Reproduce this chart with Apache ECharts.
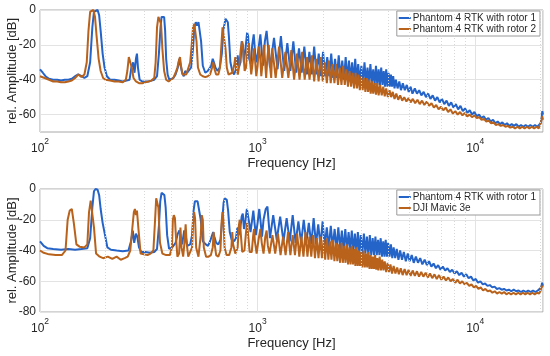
<!DOCTYPE html>
<html><head><meta charset="utf-8">
<script src="https://cdn.jsdelivr.net/npm/echarts@6/dist/echarts.min.js"></script>
<style>html,body{margin:0;padding:0;background:#fff}#c{width:550px;height:356px}</style>
</head><body><div id="c"></div>
<script>
const seriesNames = ['Phantom 4 RTK with rotor 1', 'Phantom 4 RTK with rotor 2', 'DJI Mavic 3e'];
const xTitle = 'Frequency [Hz]';
const yTitle = 'rel. Amplitude [dB]';
const yTicksTop = [0, -20, -40, -60];
const yTicksBottom = [0, -20, -40, -60, -80];
const minorGrid = [200,300,400,500,600,700,800,900,2000,3000,4000,5000,6000,7000,8000,9000,20000];

const topRotor1 = [[100,-34],[103,-36],[106,-38],[110,-39.5],[115,-40],[120,-40],[125,-40.5],[130,-40],[135,-40],[140,-39.5],[145,-38],[150,-37],[155,-38],[160,-39],[165,-38],[170,-30],[174,-10],[177,-1],[180,0],[184,0],[187,-3],[190,-12],[194,-25],[198,-33],[203,-38],[210,-40],[220,-40],[230,-40.5],[240,-41],[250,-40.5],[258,-40],[263,-33],[268,-30],[272,-36],[276,-28],[279,-25],[282,-33],[287,-40],[295,-41],[305,-41],[315,-41],[325,-40.5],[335,-40],[345,-38],[352,-25],[358,-10],[362,-4],[367,-3],[372,-4],[376,-12],[380,-28],[386,-37],[393,-40],[400,-40],[410,-39],[420,-37],[430,-33],[437,-28],[443,-32],[450,-36],[458,-38],[465,-35],[475,-36],[485,-36],[495,-33],[505,-22],[512,-10],[520,-7],[527,-9],[535,-7],[542,-8],[550,-18],[560,-32],[575,-36],[590,-35],[600,-34],[612,-32],[622,-28],[630,-30],[640,-33],[655,-35],[670,-33],[685,-25],[695,-12],[705,-8],[712,-5],[720,-6],[730,-7],[738,-15],[750,-30],[765,-35],[780,-37],[795,-34],[810,-26],[820,-33],[835,-30],[845,-18],[855,-20],[865,-30],[880,-22],[895,-13],[905,-15],[915,-28],[930,-31],[945,-20],[960,-14],[975,-25],[990,-30],[1010,-22],[1030,-14],[1045,-24],[1060,-32],[1080,-18],[1100,-12],[1115,-20],[1140,-33],
[1190,-16],[1235,-34],[1280,-15],[1325,-35],[1370,-19],[1415,-35],[1460,-18],[1505,-36],[1550,-22],[1595,-36],[1640,-21],[1685,-37],[1730,-24],[1775,-37],[1820,-21],[1865,-37],[1910,-25],[1955,-38],[2000,-24],[2045,-38],[2090,-27],[2135,-38],[2180,-25],[2225,-39],[2270,-28],[2315,-39],[2360,-26],[2405,-39],[2450,-29],[2495,-40],[2540,-27],[2585,-40],[2630,-29],[2675,-40],[2720,-30],[2765,-41],[2810,-28],[2855,-41],[2900,-31],[2945,-41],[3000,-32],[3050,-42],[3100,-30],[3150,-42],[3200,-33],[3250,-42],[3300,-31],[3350,-42],[3400,-34],[3450,-43],[3500,-32],[3550,-43],[3600,-34],[3650,-43],[3700,-33],[3750,-43],[3800,-35],[3850,-44],[3900,-34],[3950,-44],[4000,-36],[4050,-44],[4100,-37],[4150,-44],[4200,-38],[4260,-45],[4320,-40],[4400,-45],[4480,-41],[4560,-46],[4650,-42],[4750,-46],[4850,-43],[4950,-47],[5050,-44],[5150,-48],[5280,-45],[5400,-48],[5530,-46],[5660,-49],[5800,-47],[5940,-50],[6080,-48],[6230,-51],[6380,-49],[6540,-52],[6700,-50],[6870,-53],[7040,-51],[7210,-54],[7390,-52],[7570,-55],[7760,-53],[7950,-56],[8150,-54],[8350,-57],[8560,-55],[8770,-58],[8990,-56.5],[9210,-59],[9440,-57.5],[9680,-60],[9920,-58.5],[10170,-61],[10420,-60],[10680,-62],[10950,-61],[11220,-63],[11500,-62],[11790,-64],[12080,-63],[12380,-65],[12690,-64],[13010,-65.5],[13330,-64.5],[13670,-66],[14010,-65],[14360,-66.5],[14720,-65.5],[15080,-66.5],[15460,-65.5],[15850,-67],[16240,-66],[16650,-67],[17060,-66],[17490,-67],[17930,-66],[18380,-67],[18830,-66],[19300,-67],[19700,-66],[20000,-65],[20200,-62],[20350,-58],[20500,-60]];

const topRotor2 = [[100,-38],[105,-39],[110,-40],[115,-41],[120,-41],[125,-41.5],[130,-41.5],[135,-41],[140,-40.5],[145,-39],[150,-37],[155,-38.5],[160,-37],[164,-30],[167,-12],[170,-1],[173,0],[176,0],[179,-4],[182,-15],[186,-28],[190,-35],[195,-39],[200,-40],[210,-40.5],[220,-41],[230,-41],[240,-41.5],[248,-40],[252,-35],[256,-27],[260,-26],[264,-33],[269,-39],[276,-41],[285,-42],[295,-42],[305,-41.5],[315,-41],[325,-40.5],[335,-39],[340,-30],[345,-10],[350,-4],[355,-4],[360,-8],[365,-22],[372,-35],[380,-40],[390,-41],[400,-40],[410,-39],[420,-36],[428,-33],[435,-29],[440,-27],[446,-33],[452,-37],[460,-38],[470,-37],[480,-36],[490,-30],[498,-20],[505,-10],[512,-8],[518,-9],[524,-18],[532,-33],[545,-37],[560,-38],[575,-38.5],[590,-38],[605,-37],[618,-33],[626,-30],[634,-34],[645,-37],[660,-37],[672,-33],[682,-20],[690,-10],[697,-9],[704,-11],[712,-22],[722,-33],[735,-37],[750,-38],[765,-36],[780,-32],[790,-27],[798,-33],[812,-37],[825,-31],[838,-22],[850,-18],[860,-24],[872,-35],[885,-33],[900,-22],[912,-19],[922,-28],[935,-37],[950,-30],[962,-22],[974,-29],[986,-38],[1000,-32],[1015,-21],[1028,-27],[1040,-38],[1055,-30],[1070,-20],[1083,-30],[1095,-39],[1110,-27],[1125,-20],[1140,-32],[1155,-39],
[1168,-22],[1211,-39],[1255,-21],[1298,-39],[1342,-24],[1385,-39],[1429,-23],[1472,-40],[1516,-25],[1559,-40],[1603,-24],[1646,-40],[1690,-27],[1733,-40],[1777,-26],[1820,-41],[1864,-28],[1907,-41],[1951,-27],[1994,-41],[2038,-30],[2081,-42],[2125,-29],[2168,-42],[2212,-31],[2255,-42],[2299,-31],[2342,-43],[2386,-33],[2429,-43],[2473,-32],[2516,-43],[2560,-34],[2603,-44],[2647,-35],[2690,-44],[2734,-36],[2777,-45],[2821,-36],[2864,-45],[2908,-37],[2951,-46],[2995,-38],[3040,-46],[3085,-39],[3130,-47],[3175,-39],[3220,-47],[3265,-40],[3310,-48],[3355,-41],[3400,-48],[3450,-42],[3500,-48.5],[3550,-42],[3600,-49],[3660,-43],[3720,-49],[3780,-44],[3840,-49.5],[3900,-45],[3970,-50],[4040,-46],[4110,-50],[4180,-47],[4260,-51],[4340,-48],[4430,-51.5],[4520,-49],[4620,-52],[4720,-50],[4830,-52.5],[4940,-50.5],[5050,-53],[5170,-51],[5300,-53.5],[5430,-51.5],[5560,-54],[5700,-52],[5840,-54.5],[5990,-52.5],[6140,-55],[6300,-53.5],[6460,-56],[6620,-54.5],[6790,-57],[6960,-55.5],[7140,-57.5],[7320,-56],[7510,-58.5],[7700,-57],[7900,-59.5],[8100,-58],[8310,-60],[8520,-58.5],[8740,-60.5],[8960,-59],[9190,-61],[9430,-60],[9670,-61.5],[9920,-60.5],[10170,-62],[10430,-61.5],[10700,-63],[10970,-62.5],[11250,-64],[11540,-63.5],[11840,-65],[12140,-64.5],[12450,-66],[12770,-65.5],[13100,-66.5],[13440,-66],[13780,-67],[14130,-66.5],[14500,-67.5],[14870,-67],[15250,-68],[15640,-67],[16040,-68],[16450,-67],[16870,-68],[17300,-67],[17750,-68],[18200,-67],[18670,-68],[19150,-67],[19600,-68],[19900,-67],[20100,-64],[20300,-61],[20500,-63]];

const bottomRotor1 = [[100,-34],[104,-37],[108,-38.5],[115,-39],[125,-39.5],[135,-39],[145,-39.5],[155,-39],[165,-38.5],[170,-32],[174,-12],[177,-1.5],[180,0],[184,-0.5],[187,-4],[190,-13],[194,-22],[199,-30],[204,-38],[212,-39.5],[225,-40],[240,-40.5],[255,-40],[262,-34],[267,-27],[271,-35],[276,-29],[280,-31],[285,-38],[292,-41],[305,-41],[320,-41.5],[335,-41],[345,-39],[352,-24],[357,-8],[362,-2.5],[368,-3],[373,-4],[378,-12],[384,-30],[392,-39],[405,-38],[420,-35],[430,-29],[437,-27],[443,-31],[450,-36],[460,-27],[467,-30],[475,-37],[490,-36],[500,-30],[508,-14],[515,-8],[522,-9],[530,-8],[540,-9],[548,-20],[560,-34],[578,-36],[592,-37],[605,-34],[615,-33],[625,-28],[633,-31],[645,-35],[660,-36],[675,-33],[688,-20],[698,-9],[706,-6],[714,-6],[722,-7],[732,-14],[745,-28],[760,-33],[780,-34],[795,-32],[808,-25],[818,-30],[832,-26],[845,-18],[855,-16],[866,-26],[880,-20],[893,-13],[903,-12],[915,-22],[928,-28],[942,-21],[956,-14],[968,-22],[982,-30],[1000,-22],[1018,-13],[1032,-21],[1048,-31],[1065,-20],[1090,-13],[1110,-11.5],[1125,-22],[1140,-32],
[1180,-17],[1225,-33],[1270,-18],[1315,-34],[1360,-19],[1405,-34],[1450,-17],[1495,-35],[1540,-21],[1585,-35],[1630,-20],[1675,-35],[1720,-22],[1765,-36],[1810,-19],[1855,-36],[1900,-23],[1945,-37],[1990,-21],[2035,-37],[2080,-25],[2125,-38],[2170,-24],[2215,-38],[2260,-26],[2305,-39],[2350,-25],[2395,-39],[2440,-27],[2485,-40],[2530,-26],[2575,-40],[2620,-28],[2665,-40],[2710,-27],[2755,-41],[2800,-29],[2845,-41],[2890,-28],[2935,-42],[2980,-30],[3030,-42],[3080,-29],[3130,-42],[3180,-31],[3230,-43],[3280,-30],[3330,-43],[3380,-32],[3430,-43],[3480,-31],[3530,-43],[3580,-33],[3630,-43],[3680,-32],[3730,-44],[3780,-34],[3830,-44],[3880,-33],[3930,-44],[3980,-35],[4040,-44],[4100,-36],[4160,-45],[4220,-38],[4290,-45],[4360,-39],[4440,-46],[4520,-40],[4610,-46],[4700,-41],[4800,-47],[4900,-42],[5000,-47],[5110,-43],[5220,-48],[5340,-44],[5460,-48],[5590,-45],[5720,-49],[5860,-46],[6000,-49.5],[6140,-47],[6290,-50.5],[6440,-48.5],[6600,-51.5],[6760,-49.5],[6930,-52.5],[7100,-50.5],[7280,-53],[7460,-51.5],[7650,-54],[7840,-52.5],[8040,-55],[8240,-53.5],[8450,-56],[8660,-54.5],[8880,-57],[9100,-55.5],[9330,-58],[9570,-57],[9810,-59.5],[10060,-58.5],[10310,-61],[10570,-60],[10840,-62],[11110,-61.5],[11390,-63],[11680,-62.5],[11980,-64],[12280,-63.5],[12590,-65],[12910,-64.5],[13240,-65.5],[13580,-65],[13930,-66],[14290,-65.5],[14660,-66.5],[15040,-65.5],[15430,-66.5],[15830,-66],[16240,-67],[16660,-66],[17090,-67],[17530,-66],[17980,-67],[18440,-66],[18910,-67],[19400,-66],[19800,-66.5],[20100,-64],[20300,-61],[20500,-63]];

const bottomMavic = [[100,-40],[104,-41.5],[110,-42.5],[118,-43],[126,-43],[131,-40],[134,-20],[137,-14],[140,-13],[143,-22],[147,-36],[152,-37.5],[160,-38],[165,-36],[168,-15],[171,-7.5],[174,-8],[177,-25],[181,-42],[188,-44],[195,-45],[205,-44],[215,-45.5],[225,-44],[235,-46],[245,-45],[253,-44],[260,-40],[265,-27],[270,-15],[273,-13],[276,-17],[279,-14],[283,-25],[290,-42],[300,-42.5],[312,-43],[322,-42],[332,-40],[338,-20],[342,-6],[346,-6],[350,-12],[356,-35],[365,-42],[380,-43],[395,-43],[404,-38],[408,-20],[412,-17],[417,-19],[421,-30],[428,-44],[436,-42],[442,-25],[447,-38],[455,-44],[462,-34],[467,-23],[472,-35],[480,-44],[490,-45],[500,-38],[506,-20],[511,-15],[516,-19],[522,-38],[535,-44],[548,-30],[554,-17],[560,-20],[566,-38],[580,-44],[595,-44],[610,-43],[622,-38],[628,-28],[634,-35],[645,-43],[660,-44],[675,-40],[683,-22],[690,-15],[697,-20],[705,-38],[720,-43],[740,-43],[758,-38],[765,-28],[772,-36],[790,-42],[810,-38],[820,-24],[828,-20],[836,-28],[850,-41],[870,-40],[885,-28],[895,-22],[905,-30],[920,-41],[940,-41],[955,-30],[963,-26],[972,-34],[990,-42],[1010,-33],[1030,-26],[1045,-35],[1065,-42],[1085,-31],[1100,-27],[1115,-37],[1135,-42],
[1170,-30],[1205,-42],[1240,-29],[1275,-43],[1310,-31],[1345,-43],[1380,-28],[1415,-43],[1450,-30],[1485,-43],[1520,-29],[1555,-44],[1590,-31],[1625,-44],[1660,-28],[1695,-44],[1730,-31],[1765,-44],[1800,-30],[1835,-45],[1870,-32],[1905,-45],[1940,-31],[1975,-45],[2010,-33],[2045,-46],[2080,-32],[2115,-46],[2150,-34],[2185,-46],[2220,-33],[2255,-47],[2290,-35],[2325,-47],[2360,-36],[2395,-48],[2430,-35],[2465,-48],[2500,-37],[2535,-48],[2570,-36],[2605,-49],[2640,-38],[2675,-49],[2710,-37],[2745,-49],[2780,-39],[2815,-50],[2850,-38],[2885,-50],[2920,-40],[2955,-50],[2990,-41],[3030,-51],[3070,-40],[3110,-51],[3150,-42],[3190,-51],[3230,-41],[3270,-52],[3310,-43],[3350,-52],[3390,-44],[3430,-52],[3470,-43],[3510,-52.5],[3550,-45],[3590,-53],[3640,-44],[3690,-53],[3740,-46],[3790,-53],[3840,-47],[3900,-54],[3960,-48],[4020,-54],[4080,-49],[4150,-55],[4220,-50],[4300,-55],[4380,-51],[4460,-55.5],[4550,-51.5],[4640,-56],[4740,-52],[4840,-56],[4940,-52.5],[5050,-56.5],[5160,-53],[5280,-56.5],[5400,-53.5],[5520,-57],[5650,-54],[5780,-57],[5920,-54.5],[6060,-57.5],[6200,-55],[6350,-58],[6500,-55.5],[6660,-58.5],[6820,-56],[6990,-59],[7160,-57],[7340,-59.5],[7520,-57.5],[7710,-60],[7900,-58.5],[8100,-61],[8300,-59],[8510,-61.5],[8720,-60],[8940,-62],[9160,-61],[9390,-63],[9620,-62],[9860,-64],[10100,-63],[10350,-65],[10610,-64],[10870,-66],[11140,-65],[11420,-66.5],[11710,-66],[12000,-67.5],[12300,-66.5],[12610,-68],[12930,-67],[13250,-68],[13580,-67],[13920,-68.5],[14270,-67.5],[14630,-68.5],[15000,-67.5],[15380,-68.5],[15770,-67.5],[16170,-68.5],[16580,-67.5],[17000,-68.5],[17430,-67.5],[17870,-68.5],[18320,-67.5],[18780,-68.5],[19250,-67.5],[19700,-68],[20000,-66],[20200,-63],[20400,-62],[20500,-64]];

const FONT = '"Liberation Sans", Arial, Helvetica, sans-serif';
const BLUE = '#2463c8';
const ORANGE = '#b8621c';
const TXT = '#262626';

function xAxisCfg(gi) {
  return {
    type: 'log', logBase: 10, gridIndex: gi, min: 100, max: 20500,
    name: xTitle, nameLocation: 'middle', nameGap: 25, nameMoveOverlap: false,
    nameTextStyle: {fontFamily: FONT, fontSize: 13, color: TXT},
    axisLine: {show: false}, axisTick: {show: false},
    axisLabel: {
      margin: 5, color: TXT, fontFamily: FONT, hideOverlap: false,
      formatter: v => {
        const e = Math.log10(v);
        if (Math.abs(e - Math.round(e)) > 1e-6) return '';
        return '{b|10}{s|' + Math.round(e) + '}';
      },
      rich: {
        b: {fontSize: 12, fontFamily: FONT, color: TXT, verticalAlign: 'bottom', lineHeight: 18},
        s: {fontSize: 8.5, fontFamily: FONT, color: TXT, verticalAlign: 'top', lineHeight: 18}
      }
    },
    splitLine: {show: true, lineStyle: {color: '#e3e3e3', width: 1}}
  };
}
function yAxisCfg(gi, min, ticks) {
  return {
    type: 'value', gridIndex: gi, min: min, max: 0, interval: 10,
    name: yTitle, nameLocation: 'middle', nameGap: 21, nameMoveOverlap: false,
    nameTextStyle: {fontFamily: FONT, fontSize: 13, color: TXT},
    axisLine: {show: false}, axisTick: {show: false},
    axisLabel: {margin: 4, color: TXT, fontFamily: FONT, fontSize: 12,
      formatter: v => ticks.indexOf(v) >= 0 ? String(v) : ''},
    splitLine: {show: true, lineStyle: {color: min === -70 ? ['rgba(0,0,0,0)', '#e3e3e3'] : ['#e3e3e3', 'rgba(0,0,0,0)']}}
  };
}
function minorLines() {
  return {
    silent: true, symbol: 'none', animation: false,
    label: {show: false},
    lineStyle: {color: '#d8d8d8', type: [1, 2], width: 1},
    data: minorGrid.map(f => ({xAxis: f}))
  };
}
function lineSeries(name, data, color, xi, withMinor) {
  const s = {
    type: 'line', name: name, data: data, xAxisIndex: xi, yAxisIndex: xi,
    showSymbol: false, symbol: 'none', sampling: false, animation: false,
    lineStyle: {color: color, width: 2}, itemStyle: {color: color}, clip: true
  };
  if (withMinor) s.markLine = minorLines();
  return s;
}
function legendCfg(top, names) {
  return {
    data: names, orient: 'vertical', right: 10, top: top,
    backgroundColor: '#fff', borderColor: '#9a9a9a', borderWidth: 1,
    padding: [2, 4, 2, 2], itemGap: 1, itemWidth: 12, itemHeight: 2, icon: 'rect',
    textStyle: {fontFamily: FONT, fontSize: 10, color: TXT, padding: [0, 0, 0, -3]}
  };
}

const chart = echarts.init(document.getElementById('c'), null, {renderer: 'canvas'});
chart.setOption({
  animation: false,
  backgroundColor: '#fff',
  grid: [
    {left: 40, top: 10, width: 503, height: 122, show: true, borderColor: '#a8a8a8', borderWidth: 1, backgroundColor: 'transparent', containLabel: false, outerBoundsMode: 'none'},
    {left: 40, top: 189, width: 503, height: 123, show: true, borderColor: '#a8a8a8', borderWidth: 1, backgroundColor: 'transparent', containLabel: false, outerBoundsMode: 'none'}
  ],
  xAxis: [xAxisCfg(0), xAxisCfg(1)],
  yAxis: [yAxisCfg(0, -70, yTicksTop), yAxisCfg(1, -80, yTicksBottom)],
  legend: [legendCfg(11, [seriesNames[0], seriesNames[1]]), legendCfg(190, [seriesNames[0], seriesNames[2]])],
  series: [
    lineSeries(seriesNames[0], topRotor1, BLUE, 0, true),
    lineSeries(seriesNames[1], topRotor2, ORANGE, 0, false),
    lineSeries(seriesNames[0], bottomRotor1, BLUE, 1, true),
    lineSeries(seriesNames[2], bottomMavic, ORANGE, 1, false)
  ]
});
</script></body></html>
